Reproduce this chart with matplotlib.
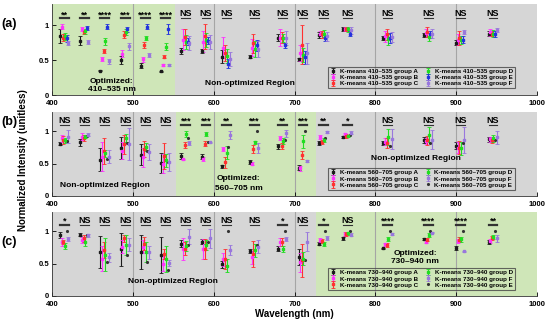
import numpy as np
import matplotlib
matplotlib.use('Agg')
import matplotlib.pyplot as plt

plt.rcParams['font.family'] = ['Liberation Sans', 'DejaVu Sans']
plt.rcParams['font.weight'] = 'bold'

wl = [410, 435, 460, 485, 510, 535, 560, 585, 610, 645, 680, 705, 730, 760, 810, 860, 900, 940]

# panel (a): K-means 410-535
a_A = [.84, .78, .35, .50, .42, .34, .63, .63, .55, .55, .82, .51, .86, .94, .82, .86, .75, .88]
a_A_err = [.10, .07, .01, .06, .04, .01, .04, .03, .09, .02, .05, .02, .04, .03, .03, .03, .04, .03]
a_B = [.98, .94, .52, .59, .51, .43, .79, .76, .68, .68, .82, .60, .88, .95, .84, .89, .79, .90]
a_B_err = [.03, .03, .03, .05, .04, .02, .15, .15, .15, .12, .12, .12, .04, .03, .08, .05, .08, .05]
a_C = [.82, .90, .63, .86, .72, .55, .83, .84, .60, .74, .82, .72, .87, .94, .87, .90, .81, .88]
a_C_err = [.05, .03, .03, .05, .04, .02, .12, .18, .12, .14, .08, .28, .05, .03, .08, .07, .10, .04]
a_D = [.84, .91, .77, .90, .82, .69, .76, .79, .56, .66, .82, .57, .88, .94, .80, .83, .79, .88]
a_D_err = [.05, .03, .05, .04, .03, .05, .10, .10, .10, .12, .06, .10, .05, .04, .08, .06, .06, .05]
a_E = [.81, .96, .98, .94, .98, .94, .76, .78, .45, .71, .71, .54, .82, .88, .82, .87, .79, .87]
a_E_err = [.05, .03, .03, .04, .04, .07, .05, .05, .07, .08, .04, .09, .04, .03, .07, .05, .05, .04]
a_F = [.75, .76, .48, .70, .57, .43, .74, .76, .52, .66, .81, .60, .84, .93, .83, .88, .90, .93]
a_F_err = [.03, .03, .03, .05, .03, .02, .10, .10, .10, .12, .10, .15, .06, .05, .07, .06, .03, .03]
a_sig = ['**', '**', '****', '***', '****', '****'] + ['NS'] * 12

# panel (b): K-means 560-705 (group E drawn as a small dot)
b_A = [.81, .83, .56, .75, .64, .51, .62, .61, .46, .53, .77, .44, .82, .91, .82, .87, .78, .88]
b_A_err = [.02, .05, .18, .17, .16, .15, .04, .04, .02, .03, .04, .04, .03, .02, .03, .05, .05, .04]
b_B = [.89, .92, .61, .70, .60, .50, .57, .57, .73, .50, .90, .43, .91, .96, .84, .85, .75, .88]
b_B_err = [.06, .05, .22, .13, .15, .15, .01, .03, .03, .02, .03, .04, .03, .02, .05, .05, .08, .04]
b_C = [.87, .90, .70, .80, .73, .62, .79, .81, .52, .73, .77, .63, .83, .93, .82, .86, .75, .86]
b_C_err = [.06, .05, .20, .15, .12, .20, .04, .04, .08, .06, .05, .06, .03, .03, .07, .07, .10, .04]
b_D = [.86, .92, .66, .90, .76, .55, .96, .96, .67, .83, .85, .85, .87, .93, .91, .95, .74, .89]
b_D_err = [.04, .03, .05, .06, .06, .10, .04, .03, .10, .02, .04, .10, .03, .02, .12, .12, .10, .05]
b_E = [.85, .93, .57, .82, .70, .53, .89, .83, .76, 1.0, .87, 1.0, .90, .94, .77, .82, .82, .87]
b_F = [.92, .95, .61, .81, .68, .52, .82, .83, .94, .74, .97, .54, .99, .98, .88, .87, .87, .91]
b_F_err = [.10, .02, .10, .25, .12, .14, .03, .01, .06, .08, .05, .02, .02, .02, .15, .15, .20, .10]
b_sig = ['NS'] * 6 + ['***', '***', '**', '***', '**', '***', '**', '*'] + ['NS'] * 4

# panel (c): K-means 730-940 (group E drawn as a small dot)
c_A = [.94, .95, .68, .72, .68, .64, .81, .84, .49, .70, .73, .60, .81, .89, .74, .88, .74, .84]
c_A_err = [.05, .02, .25, .25, .26, .28, .05, .04, .05, .03, .04, .12, .02, .03, .01, .02, .03, .03]
c_B = [.84, .87, .58, .76, .76, .50, .73, .73, .57, .60, .84, .52, .87, .96, .80, .84, .85, .85]
c_B_err = [.06, .05, .20, .10, .10, .12, .17, .15, .10, .10, .06, .15, .03, .03, .02, .02, .03, .03]
c_C = [.84, .89, .71, .89, .81, .65, .73, .73, .57, .65, .84, .55, .85, .96, .79, .87, .87, .90]
c_C_err = [.03, .06, .12, .05, .10, .07, .10, .15, .15, .20, .06, .25, .03, .03, .03, .02, .04, .03]
c_D = [.77, .84, .64, .79, .68, .57, .77, .79, .47, .71, .73, .58, .81, .97, .88, .94, .88, .91]
c_D_err = [.05, .07, .25, .15, .16, .20, .08, .08, .10, .10, .05, .10, .03, .02, .03, .03, .04, .03]
c_E = [1.0, .95, .52, .63, .52, .41, .79, .84, 1.0, .79, 1.0, .55, 1.0, 1.0, 1.0, 1.0, 1.0, 1.0]
c_F = [.88, .94, .60, .79, .68, .51, .92, .89, .71, .76, .88, .84, .90, .95, .96, .98, .69, .89]
c_F_err = [.03, .02, .07, .10, .10, .05, .12, .14, .08, .10, .03, .15, .03, .02, .02, .01, .01, .05]
c_sig = ['*'] + ['NS'] * 9 + ['*', 'NS', '*', 'NS', '****', '****', '****', '**']

col = {'A': '#1a1a1a', 'B': '#ff33ff', 'C': '#ff3030', 'D': '#20dd20', 'E': '#2233dd', 'F': '#9977dd'}
green_bg = '#cfe6b8'
gray_bg = '#d6d6d6'

fig = plt.figure(figsize=(5.5, 3.2), dpi=100)
ax_a = fig.add_axes([0.0945, 0.703, 0.882, 0.284])
ax_b = fig.add_axes([0.0945, 0.3875, 0.882, 0.2625])
ax_c = fig.add_axes([0.0945, 0.075, 0.882, 0.2625])

x = np.array(wl, dtype=float)


def setup(ax, spans, sig):
    for x0, x1, c in spans:
        ax.axvspan(x0, x1, color=c, lw=0, zorder=0)
    for v in [500, 600, 700, 800, 900]:
        ax.axvline(v, color='#a5a5a5', lw=0.8, zorder=0.5)
    for w, s in zip(wl, sig):
        lw = 0.8 if s == 'NS' else 1.6
        ax.plot([w, w + 11], [1.1, 1.1], color='#333333', lw=lw, zorder=3)
        ax.text(w + 5.5, 1.105 if s == 'NS' else 1.085, s, ha='center', va='bottom',
                fontsize=6.5, fontweight='bold', zorder=3)
    ax.set_xlim(400, 1000)
    ax.set_ylim(0, 1.3)
    ax.set_xticks([400, 500, 600, 700, 800, 900, 1000])
    ax.set_yticks([0, 0.5, 1])
    ax.set_yticklabels(['0', '0.5', '1'])
    ax.tick_params(direction='in', length=3, width=0.6, labelsize=5.5, pad=2)
    ax.tick_params(axis='x', pad=3.5)
    for sp in ['top', 'right']:
        ax.spines[sp].set_visible(False)
    for sp in ['left', 'bottom']:
        ax.spines[sp].set_linewidth(0.6)
        ax.spines[sp].set_color('#333333')


def group(ax, off, y, err, c, label):
    h = ax.errorbar(x + off, y, yerr=err, fmt='s', ms=2, color=c, ecolor=c,
                    elinewidth=0.8, capsize=1.3, capthick=0.6, label=label, zorder=2)
    return h


def legend(ax, handles):
    leg = ax.legend(handles=handles, ncol=2, loc='lower right', bbox_to_anchor=(0.96, 0.04),
                    frameon=True, fancybox=False, facecolor='none',
                    edgecolor='#444444', handlelength=1.0,
                    handletextpad=0.6, columnspacing=1.0, labelspacing=0.12,
                    borderpad=0.3, prop={'weight': 'bold', 'size': 4.5})
    leg.get_frame().set_linewidth(0.8)
    leg.set_zorder(5)


# (a)
setup(ax_a, [(400, 552, green_bg), (552, 1000, gray_bg)], a_sig)
lab = 'K-means 410\u2013535 group '
hs = []
for off, g, y, e in [(0, 'A', a_A, a_A_err), (2, 'B', a_B, a_B_err), (4, 'C', a_C, a_C_err),
                     (6, 'D', a_D, a_D_err), (8, 'E', a_E, a_E_err), (10, 'F', a_F, a_F_err)]:
    hs.append(group(ax_a, off, y, e, col[g], lab + g))
legend(ax_a, hs)
ax_a.text(474, 0.2, 'Optimized:', ha='center', va='center', fontsize=6, fontweight='bold')
ax_a.text(474, 0.08, '410\u2013535 nm', ha='center', va='center', fontsize=6, fontweight='bold')
ax_a.text(645, 0.17, 'Non-optimized Region', ha='center', va='center', fontsize=6, fontweight='bold')

# (b)
setup(ax_b, [(400, 553, gray_bg), (553, 727, green_bg), (727, 1000, gray_bg)], b_sig)
lab = 'K-means 560\u2013705 group '
h = {}
for off, g, y, e in [(0, 'A', b_A, b_A_err), (2, 'B', b_B, b_B_err), (4, 'C', b_C, b_C_err),
                     (6, 'D', b_D, b_D_err), (10, 'F', b_F, b_F_err)]:
    h[g] = group(ax_b, off, y, e, col[g], lab + g)
h['E'] = ax_b.plot(x + 8, b_E, '.', ms=2.5, color='#333333', label=lab + 'E', zorder=2)[0]
legend(ax_b, [h['A'], h['B'], h['C'], h['D'], h['F'], h['E']])
ax_b.text(466, 0.17, 'Non-optimized Region', ha='center', va='center', fontsize=6, fontweight='bold')
ax_b.text(631, 0.27, 'Optimized:', ha='center', va='center', fontsize=6, fontweight='bold')
ax_b.text(631, 0.11, '560\u2013705 nm', ha='center', va='center', fontsize=6, fontweight='bold')
ax_b.text(850, 0.58, 'Non-optimized Region', ha='center', va='center', fontsize=6, fontweight='bold')

# (c)
setup(ax_c, [(400, 726, gray_bg), (726, 1000, green_bg)], c_sig)
lab = 'K-means 730\u2013940 group '
h = {}
for off, g, y, e in [(0, 'A', c_A, c_A_err), (2, 'B', c_B, c_B_err), (4, 'C', c_C, c_C_err),
                     (6, 'D', c_D, c_D_err), (10, 'F', c_F, c_F_err)]:
    h[g] = group(ax_c, off, y, e, col[g], lab + g)
h['E'] = ax_c.plot(x + 8, c_E, '.', ms=2.5, color='#333333', label=lab + 'E', zorder=2)[0]
legend(ax_c, [h['A'], h['B'], h['C'], h['D'], h['F'], h['E']])
ax_c.text(549, 0.23, 'Non-optimized Region', ha='center', va='center', fontsize=6, fontweight='bold')
ax_c.text(849, 0.66, 'Optimized:', ha='center', va='center', fontsize=6, fontweight='bold')
ax_c.text(849, 0.53, '730\u2013940 nm', ha='center', va='center', fontsize=6, fontweight='bold')

fig.text(0.017, 0.925, '(a)', fontsize=9, fontweight='bold', ha='center', va='center')
fig.text(0.017, 0.62, '(b)', fontsize=9, fontweight='bold', ha='center', va='center')
fig.text(0.017, 0.243, '(c)', fontsize=9, fontweight='bold', ha='center', va='center')
fig.text(0.042, 0.5, 'Normalized Intensity (unitless)', rotation=90, fontsize=7,
         fontweight='bold', ha='center', va='center')
fig.text(0.536, 0.02, 'Wavelength (nm)', fontsize=7, fontweight='bold', ha='center', va='center')

fig.savefig('out.png', dpi=100)
